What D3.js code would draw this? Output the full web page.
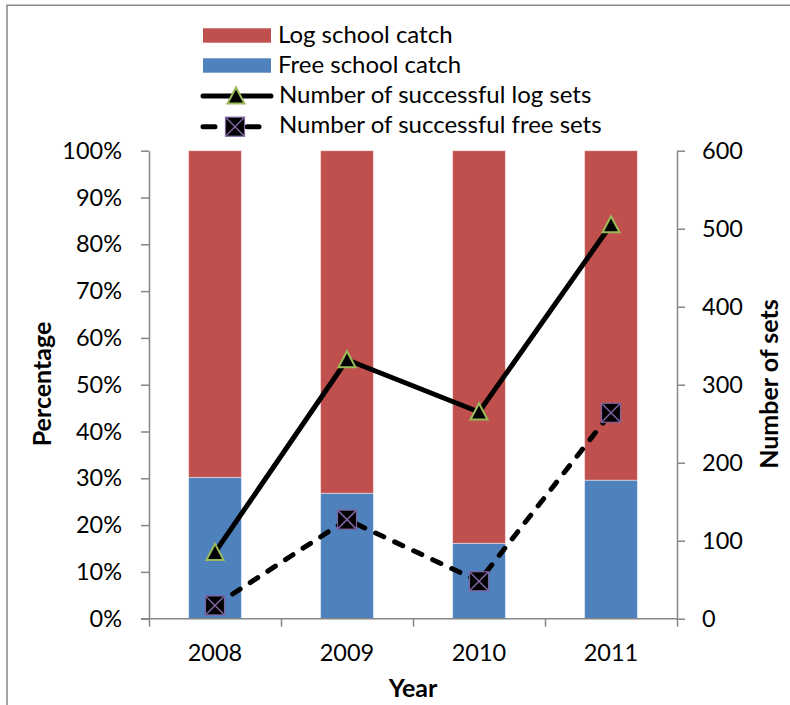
<!DOCTYPE html>
<html>
<head>
<meta charset="utf-8">
<script src="https://cdn.jsdelivr.net/npm/d3@7"></script>
<style>
  html, body { margin: 0; padding: 0; background: #fff; }
  svg { display: block; font-family: Lato, "Open Sans", sans-serif; }
</style>
</head>
<body>
<svg id="chart" width="790" height="705"></svg>
<script>
// Catch composition (share of catch) and number of successful sets per year
const years = ["2008", "2009", "2010", "2011"];
const freeSchoolPct = [30.2, 26.8, 16.1, 29.6];
const logSchoolPct = [69.8, 73.2, 83.9, 70.4];
const logSets = [85, 332, 265, 505];
const freeSets = [17, 127, 48, 264];
const pctTicks = [0, 0.1, 0.2, 0.3, 0.4, 0.5, 0.6, 0.7, 0.8, 0.9, 1];
const setTicks = [0, 100, 200, 300, 400, 500, 600];

const RED = "#C0504D", BLUE = "#4F81BD", GREEN = "#9BBB59", PURPLE = "#8064A2";
const AXIS = "#868686";
const FONT = 23.5, LEGEND_FONT = 24, TITLE_FONT = 25;

const svg = d3.select("#chart");
const plotLeft = 149, plotRight = 677, plotTop = 150.7, plotBottom = 618.7;

// chart frame
svg.append("path")
  .attr("d", "M7,800V5.3H800")
  .attr("fill", "none").attr("stroke", AXIS).attr("stroke-width", 1.5);

const x = d3.scaleBand().domain(years).range([plotLeft, plotRight])
  .paddingInner(0.6).paddingOuter(0.3);
const xEdges = d3.scaleLinear().domain([0, years.length]).range([plotLeft, plotRight]);
const yPct = d3.scaleLinear().domain([0, 1]).range([plotBottom, plotTop]);
const ySets = d3.scaleLinear().domain([0, 600]).range([plotBottom, plotTop]);

// stacked bars
const stacked = years.map((yr, i) => ({ year: yr, free: freeSchoolPct[i] / 100, log: logSchoolPct[i] / 100 }));
const bars = svg.append("g");
bars.selectAll("rect.free").data(stacked).join("rect")
  .attr("class", "free")
  .attr("x", d => x(d.year)).attr("width", x.bandwidth())
  .attr("y", d => yPct(d.free)).attr("height", d => yPct(0) - yPct(d.free))
  .attr("fill", BLUE).attr("stroke", "rgba(255,255,255,0.45)").attr("stroke-width", 1);
bars.selectAll("rect.log").data(stacked).join("rect")
  .attr("class", "log")
  .attr("x", d => x(d.year)).attr("width", x.bandwidth())
  .attr("y", d => yPct(d.free + d.log)).attr("height", d => yPct(d.free) - yPct(d.free + d.log))
  .attr("fill", RED).attr("stroke", "rgba(255,255,255,0.45)").attr("stroke-width", 1);

// axes
function styleAxis(g) {
  g.selectAll("path.domain").attr("stroke", AXIS).attr("stroke-width", 1.5);
  g.selectAll(".tick line").attr("stroke", AXIS).attr("stroke-width", 1.5);
  g.selectAll("text").attr("font-size", FONT).attr("fill", "#000").attr("font-family", "Lato, 'Open Sans', sans-serif");
}

const gLeft = svg.append("g").attr("transform", `translate(${plotLeft},0)`)
  .call(d3.axisLeft(yPct).tickValues(pctTicks).tickFormat(d3.format(".0%")).tickSizeInner(8).tickSizeOuter(0).tickPadding(19));
styleAxis(gLeft);

const gRight = svg.append("g").attr("transform", `translate(${plotRight},0)`)
  .call(d3.axisRight(ySets).tickValues(setTicks).tickSizeInner(8).tickSizeOuter(0).tickPadding(17));
styleAxis(gRight);

const gBottomTicks = svg.append("g").attr("transform", `translate(0,${plotBottom})`)
  .call(d3.axisBottom(xEdges).tickValues(d3.range(years.length + 1)).tickFormat("").tickSizeInner(8).tickSizeOuter(0));
styleAxis(gBottomTicks);
gBottomTicks.select("path.domain").attr("d", `M${plotLeft - 8},0H${plotRight}`);

const gBottom = svg.append("g").attr("transform", `translate(0,${plotBottom})`)
  .call(d3.axisBottom(x).tickSize(0).tickPadding(0));
gBottom.select("path.domain").remove();
styleAxis(gBottom);
gBottom.selectAll("text").attr("y", 42).attr("dy", 0);

// axis titles
svg.append("text").attr("x", 413).attr("y", 697).attr("text-anchor", "middle")
  .attr("font-size", TITLE_FONT).attr("font-weight", "bold").text("Year");
svg.append("text").attr("transform", "translate(51,384) rotate(-90)").attr("text-anchor", "middle")
  .attr("font-size", TITLE_FONT).attr("font-weight", "bold").text("Percentage");
svg.append("text").attr("transform", "translate(778,384) rotate(-90)").attr("text-anchor", "middle")
  .attr("font-size", TITLE_FONT).attr("font-weight", "bold").text("Number of sets");

// markers
function triangle(g, cx, cy) {
  g.append("path")
    .attr("d", `M${cx},${cy - 8.5}L${cx + 8.5},${cy + 7.5}L${cx - 8.5},${cy + 7.5}Z`)
    .attr("fill", "#000").attr("stroke", GREEN).attr("stroke-width", 2).attr("stroke-linejoin", "miter");
}
function crossBox(g, cx, cy) {
  const h = 9.5;
  g.append("rect").attr("x", cx - h).attr("y", cy - h).attr("width", 2 * h).attr("height", 2 * h)
    .attr("fill", "#000").attr("stroke", PURPLE).attr("stroke-width", 1.2);
  g.append("path").attr("d", `M${cx - h},${cy - h}L${cx + h},${cy + h}M${cx + h},${cy - h}L${cx - h},${cy + h}`)
    .attr("stroke", PURPLE).attr("stroke-width", 1.5);
}

const cx = i => x(years[i]) + x.bandwidth() / 2;
const line = d3.line().x((d, i) => cx(i)).y(d => ySets(d));

const gLog = svg.append("g");
gLog.append("path").datum(logSets).attr("d", line)
  .attr("fill", "none").attr("stroke", "#000").attr("stroke-width", 5).attr("stroke-linejoin", "round").attr("stroke-linecap", "round");
logSets.forEach((v, i) => triangle(gLog, cx(i), ySets(v)));

const gFree = svg.append("g");
gFree.append("path").datum(freeSets).attr("d", line)
  .attr("fill", "none").attr("stroke", "#000").attr("stroke-width", 5)
  .attr("stroke-dasharray", "9,12").attr("stroke-linecap", "round").attr("stroke-linejoin", "round");
freeSets.forEach((v, i) => crossBox(gFree, cx(i), ySets(v)));

// legend
const legend = svg.append("g");
const lx = 203, tx = 278;
legend.append("rect").attr("x", lx).attr("y", 28.3).attr("width", 68).attr("height", 14.4).attr("fill", RED);
legend.append("text").attr("x", tx).attr("y", 42.7).attr("font-size", LEGEND_FONT).text("Log school catch");
legend.append("rect").attr("x", lx).attr("y", 58.3).attr("width", 68).attr("height", 14.4).attr("fill", BLUE);
legend.append("text").attr("x", tx).attr("y", 72.7).attr("font-size", LEGEND_FONT).text("Free school catch");
legend.append("path").attr("d", `M${lx},96H${lx + 68}`)
  .attr("stroke", "#000").attr("stroke-width", 5).attr("stroke-linecap", "round");
triangle(legend, 236, 96);
legend.append("text").attr("x", tx + 1).attr("y", 103.3).attr("font-size", LEGEND_FONT).text("Number of successful log sets");
legend.append("path").attr("d", `M${lx},126.7H${lx + 60}`)
  .attr("stroke", "#000").attr("stroke-width", 5).attr("stroke-linecap", "round")
  .attr("stroke-dasharray", "12,32");
crossBox(legend, 235, 126.7);
legend.append("text").attr("x", tx + 1).attr("y", 133.3).attr("font-size", LEGEND_FONT).text("Number of successful free sets");
</script>
</body>
</html>
